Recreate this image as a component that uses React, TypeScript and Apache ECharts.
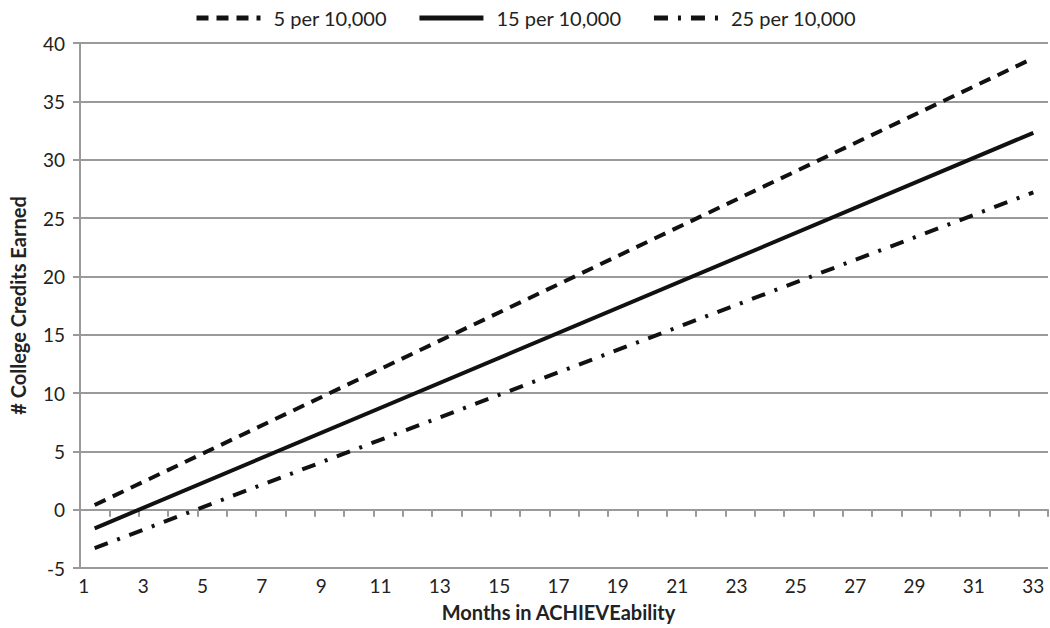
import React, { useEffect, useRef } from "react";
import * as echarts from "echarts";

const months = Array.from({ length: 33 }, (_, i) => String(i + 1));
const seriesNames = ["5 per 10,000", "15 per 10,000", "25 per 10,000"];
// endpoints (month 1 and month 33)
const line5 = [["1", 0.4], ["33", 38.7]];
const line15 = [["1", -1.6], ["33", 32.3]];
const line25 = [["1", -3.3], ["33", 27.2]];
const yTicksMin = -5;
const yTicksMax = 40;

const FONT = "Lato";
const GRAY = "#9a9a9a";

export default function App() {
  const ref = useRef<HTMLDivElement>(null);
  useEffect(() => {
    const chart = echarts.init(ref.current!, null, { renderer: "svg" });
    const grid = { left: 69, right: 2, top: 43, bottom: 60 };
    const lineBase = { type: "line", symbol: "none", xAxisIndex: 0, yAxisIndex: 0 };
    chart.setOption({
      animation: false,
      textStyle: { fontFamily: FONT },
      legend: {
        top: 3,
        left: "center",
        itemWidth: 64,
        itemHeight: 14,
        itemGap: 30,
        itemStyle: { opacity: 0 },
        lineStyle: { width: 5 },
        textStyle: { fontFamily: FONT, fontSize: 20, color: "#222", padding: [0, 0, 0, 8] },
        data: seriesNames,
      },
      grid: [grid, { ...grid }],
      xAxis: [
        {
          type: "category",
          gridIndex: 0,
          data: months,
          boundaryGap: true,
          position: "bottom",
          axisLine: { show: true, onZero: true, lineStyle: { color: GRAY, width: 2 } },
          axisTick: { show: true, length: 7, lineStyle: { color: GRAY, width: 2 } },
          axisLabel: { show: false },
          splitLine: { show: false },
        },
        {
          type: "category",
          gridIndex: 1,
          data: months,
          boundaryGap: true,
          position: "bottom",
          axisLine: { show: false, onZero: false },
          axisTick: { show: false },
          axisLabel: { show: true, interval: 1, margin: 8, fontSize: 19, color: "#222", fontFamily: FONT },
          splitLine: { show: false },
          name: "Months in ACHIEVEability",
          nameLocation: "middle",
          nameGap: 34,
          nameTextStyle: { fontFamily: FONT, fontSize: 20, fontWeight: "bold", color: "#222" },
        },
      ],
      yAxis: [
        {
          type: "value",
          gridIndex: 0,
          min: yTicksMin,
          max: yTicksMax,
          interval: 5,
          axisLine: { show: true, lineStyle: { color: GRAY, width: 2 } },
          axisTick: { show: true, length: 7, lineStyle: { color: GRAY, width: 2 } },
          axisLabel: { margin: 15, fontSize: 19, color: "#222", fontFamily: FONT },
          splitLine: { show: true, lineStyle: { color: GRAY, width: 2 } },
          name: "# College Credits Earned",
          nameLocation: "middle",
          nameGap: 52,
          nameRotate: 90,
          nameTextStyle: { fontFamily: FONT, fontSize: 20, fontWeight: "bold", color: "#222" },
        },
        {
          type: "value",
          gridIndex: 1,
          min: yTicksMin,
          max: yTicksMax,
          interval: 5,
          show: false,
        },
      ],
      series: [
        { ...lineBase, name: seriesNames[0], data: line5, lineStyle: { color: "#111", width: 4, type: [12, 8] }, itemStyle: { color: "#111" } },
        { ...lineBase, name: seriesNames[1], data: line15, lineStyle: { color: "#111", width: 4, type: "solid" }, itemStyle: { color: "#111" } },
        { ...lineBase, name: seriesNames[2], data: line25, lineStyle: { color: "#111", width: 4, type: [14, 10, 3, 10] }, itemStyle: { color: "#111" } },
      ],
    });
    return () => chart.dispose();
  }, []);
  return <div ref={ref} style={{ width: 1050, height: 628, position: "absolute", left: 0, top: 0 }} />;
}
